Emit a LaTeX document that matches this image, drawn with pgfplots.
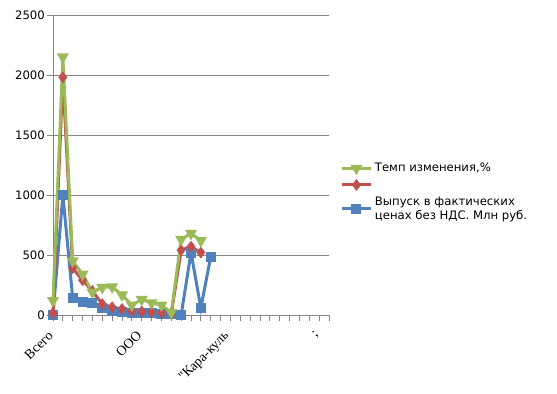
\documentclass[border=0pt]{standalone}
\usepackage{graphicx}
\usepackage{pgfplots}
\pgfplotsset{compat=1.18}
\usepackage{fontspec}
\setmainfont{DejaVu Sans}
\newfontfamily\serifru{Liberation Serif}
\definecolor{xblue}{HTML}{4F81BD}
\definecolor{xred}{HTML}{C0504D}
\definecolor{xgreen}{HTML}{9BBB59}
\definecolor{xgray}{HTML}{868686}
\newcommand{\rl}[1]{\rotatebox{45}{#1}}
\begin{document}
\begin{tikzpicture}
\useasboundingbox (0,0) rectangle (557bp,394bp);
\begin{axis}[
  at={(53bp,79bp)}, anchor=south west,
  scale only axis, width=276bp, height=300bp,
  xmin=0, xmax=28, ymin=0, ymax=2500,
  axis x line=bottom, axis y line=left,
  axis line style={xgray, line width=0.8bp, -},
  xtick={0,9,18,27},
  xticklabels={\rl{Всего},\rl{ООО},\rl{"Кара-куль},\rl{;}},
  minor xtick={0,...,28},
  ytick={0,500,...,2500},
  ymajorgrids, grid style={xgray, line width=0.8bp},
  tick align=outside, major tick length=6bp, minor tick length=6bp,
  tick style={xgray, line width=0.8bp},
  xticklabel style={anchor=north east, font=\serifru\fontsize{13.8}{15}\selectfont, inner sep=0bp, xshift=1bp, yshift=-9bp},
  yticklabel style={font=\fontsize{11.7}{14}\selectfont, inner sep=2bp},
  /pgf/number format/assume math mode=true,
  /pgf/number format/1000 sep={},
  clip=false,
  reverse legend,
  legend style={at={(1,0.52)}, anchor=north west, xshift=8bp, draw=none, fill=none,
    font=\fontsize{11.7}{14}\selectfont, cells={align=left, anchor=west}, row sep=2bp},
  legend image code/.code={\draw[mark repeat=2,mark phase=2] plot coordinates {(0cm,0cm) (0.52cm,0cm) (1.05cm,0cm)};},
]
\addplot[xblue, line width=3bp, mark=square*, mark size=3.5bp, mark options={solid}] coordinates {
(0,0)(1,1000)(2,140)(3,110)(4,100)(5,60)(6,35)(7,25)(8,20)(9,15)(10,15)(11,10)(12,8)(13,0)(14,520)(15,60)(16,485)};
\addlegendentry{Выпуск в фактических\\ценах без НДС. Млн руб.}
\addplot[xred, line width=3bp, mark=diamond*, mark size=3.5bp, mark options={solid}] coordinates {
(0,15)(1,1980)(2,390)(3,290)(4,200)(5,90)(6,65)(7,50)(8,35)(9,30)(10,25)(11,20)(12,10)(13,540)(14,570)(15,520)};
\addlegendentry{\strut}
\addplot[xgreen, line width=3bp, mark=triangle*, mark size=4bp, mark options={solid, rotate=180}] coordinates {
(0,120)(1,2150)(2,450)(3,340)(4,190)(5,230)(6,235)(7,167)(8,83)(9,130)(10,100)(11,83)(12,20)(13,630)(14,680)(15,620)};
\addlegendentry{Темп изменения,\%}
\end{axis}
\end{tikzpicture}
\end{document}
